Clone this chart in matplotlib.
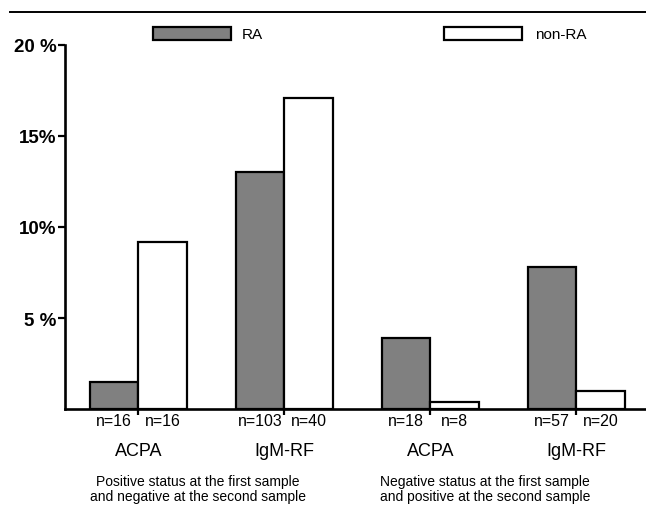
import numpy as np
import matplotlib
matplotlib.use("Agg")
from matplotlib import pyplot as plt
from matplotlib.patches import Rectangle
from matplotlib.lines import Line2D

plt.rcParams['font.family'] = ['Liberation Sans', 'DejaVu Sans']

markers = ['ACPA', 'IgM-RF', 'ACPA', 'IgM-RF']
ra_pct = [1.5, 13.0, 3.9, 7.8]
nonra_pct = [9.2, 17.1, 0.37, 0.97]
ra_n = [16, 103, 18, 57]
nonra_n = [16, 40, 8, 20]
yticks = [5, 10, 15, 20]
ytick_labels = ['5 %', '10%', '15%', '20 %']
block_labels = ['Positive status at the first sample\nand negative at the second sample',
                'Negative status at the first sample\nand positive at the second sample']
series_names = ['RA', 'non-RA']

W, H = 646, 510
fig = plt.figure(figsize=(W / 100, H / 100), dpi=100)


def fx(px):
    return px / W


def fy(py):
    return 1 - py / H


# axes: y axis at x=65, zero at y=410, 20% at y=46
ax = fig.add_axes([fx(65), fy(410), (W - 65) / W, (410 - 46) / H])

x = np.arange(len(markers))
w = 0.333
ax.bar(x - w / 2, ra_pct, w, color='#808080', edgecolor='black', linewidth=1.6, zorder=2)
ax.bar(x + w / 2, nonra_pct, w, color='white', edgecolor='black', linewidth=1.6, zorder=2)

ax.set_xlim(-0.502, 3.477)
ax.set_ylim(0, 20)

for s in ['top', 'right']:
    ax.spines[s].set_visible(False)
for s in ['left', 'bottom']:
    ax.spines[s].set_linewidth(1.9)
    ax.spines[s].set_zorder(3)

ax.set_yticks(yticks)
ax.set_yticklabels(ytick_labels, fontsize=13.5, fontweight='bold')
ax.tick_params(axis='y', direction='out', length=5, width=1.6, pad=1)
ax.set_xticks(x)
ax.set_xticklabels([])
ax.tick_params(axis='x', direction='out', length=4.5, width=1.6)

tr = ax.get_xaxis_transform()
ppx = 1 / (410 - 46)  # axes fraction per pixel
for i in range(len(markers)):
    ax.text(x[i] - w / 2, -11 * ppx, f'n={ra_n[i]}', transform=tr,
            ha='center', va='center', fontsize=11.5)
    ax.text(x[i] + w / 2, -11 * ppx, f'n={nonra_n[i]}', transform=tr,
            ha='center', va='center', fontsize=11.5)
    ax.text(x[i], -42 * ppx, markers[i], transform=tr,
            ha='center', va='center', fontsize=13)

fig.text(fx(198), fy(489.5), block_labels[0], ha='center', va='center',
         fontsize=10, linespacing=1.1)
fig.text(fx(485), fy(489.5), block_labels[1], ha='center', va='center',
         fontsize=10, linespacing=1.1)

# legend
fig.add_artist(Rectangle((fx(153), fy(41)), 78 / W, 13 / H, transform=fig.transFigure,
                         facecolor='#808080', edgecolor='black', linewidth=1.6))
fig.text(fx(242), fy(35), series_names[0], ha='left', va='center', fontsize=11)
fig.add_artist(Rectangle((fx(444), fy(41)), 78 / W, 13 / H, transform=fig.transFigure,
                         facecolor='white', edgecolor='black', linewidth=1.6))
fig.text(fx(535), fy(35), series_names[1], ha='left', va='center', fontsize=11)

# page rule at top
fig.add_artist(Line2D([fx(10), 1], [fy(13), fy(13)], transform=fig.transFigure,
                      color='black', linewidth=1.4))

fig.savefig('out.png', dpi=100)
